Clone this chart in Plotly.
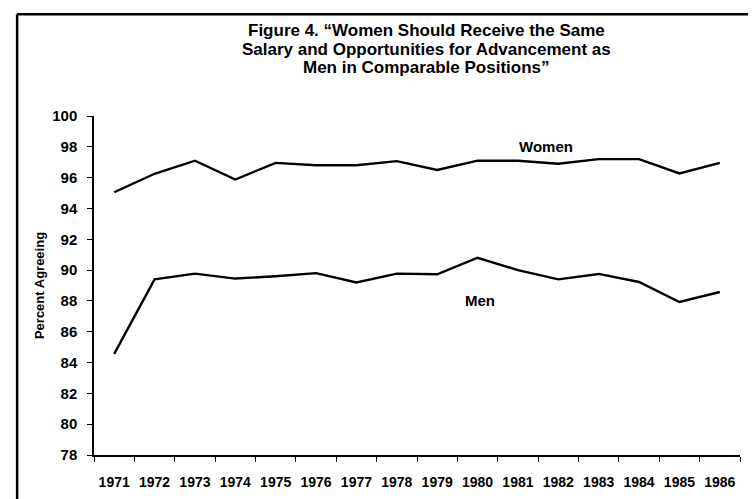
import plotly.graph_objects as go

# Data
years = ['1971', '1972', '1973', '1974', '1975', '1976', '1977', '1978',
         '1979', '1980', '1981', '1982', '1983', '1984', '1985', '1986']
women = [95.05, 96.25, 97.1, 95.88, 96.96, 96.8, 96.8, 97.07,
         96.5, 97.1, 97.1, 96.9, 97.2, 97.2, 96.27, 96.96]
men = [84.56, 89.4, 89.77, 89.45, 89.6, 89.8, 89.2, 89.77,
       89.73, 90.8, 90.0, 89.4, 89.75, 89.23, 87.93, 88.58]
y_ticks = list(range(78, 101, 2))
title_lines = ['Figure 4. \u201cWomen Should Receive the Same',
               'Salary and Opportunities for Advancement as',
               'Men in Comparable Positions\u201d']

font_family = 'Liberation Sans, Arial, sans-serif'

fig = go.Figure()

fig.add_trace(go.Scatter(x=years, y=women, mode='lines', name='Women',
                         line=dict(color='black', width=2.4)))
fig.add_trace(go.Scatter(x=years, y=men, mode='lines', name='Men',
                         line=dict(color='black', width=2.4)))

# Series labels
fig.add_annotation(x=10.7, y=98.05, text='<b>Women</b>', showarrow=False,
                   font=dict(size=15, color='black', family=font_family))
fig.add_annotation(x=9.05, y=88.0, text='<b>Men</b>', showarrow=False,
                   font=dict(size=15, color='black', family=font_family))

# Title, one line per annotation to keep the tight line spacing
for i, line in enumerate(title_lines):
    fig.add_annotation(xref='paper', yref='paper', x=0.515, y=1.252 - i * 0.055,
                       text='<b>' + line + '</b>', showarrow=False,
                       xanchor='center', yanchor='middle',
                       font=dict(size=17, color='black', family=font_family))

# Outer frame (left and top edges)
fig.add_shape(type='line', xref='paper', yref='paper',
              x0=-0.119, x1=-0.119, y0=1.3, y1=-0.2,
              line=dict(color='black', width=2.5))
fig.add_shape(type='line', xref='paper', yref='paper',
              x0=-0.119, x1=1.1, y0=1.3, y1=1.3,
              line=dict(color='black', width=2.5))

fig.update_layout(
    width=756, height=499,
    margin=dict(l=86, r=24, t=108, b=52),
    paper_bgcolor='white', plot_bgcolor='white',
    showlegend=False,
    font=dict(family=font_family, color='black'),
)

fig.update_xaxes(
    type='category', range=[-0.5, 15.5], automargin=False,
    showline=True, linecolor='black', linewidth=1.5,
    ticks='outside', tickson='boundaries', ticklen=5, tickcolor='black',
    showgrid=False, zeroline=False, tickangle=0,
    tickfont=dict(size=14, family=font_family, color='black'),
    ticklabelstandoff=13,
)
fig.update_xaxes(tickvals=years, ticktext=['<b>' + y + '</b>' for y in years])

fig.update_yaxes(
    range=[78, 100], tickvals=y_ticks, automargin=False,
    ticktext=['<b>' + str(v) + '</b>' for v in y_ticks],
    showline=True, linecolor='black', linewidth=1.5,
    ticks='outside', ticklen=5, tickcolor='black',
    showgrid=False, zeroline=False,
    tickfont=dict(size=15, family=font_family, color='black'),
    ticklabelstandoff=7,
    title=dict(text='<b>Percent Agreeing</b>', standoff=5,
               font=dict(size=13, family=font_family, color='black')),
)

fig.write_html('out.html')
